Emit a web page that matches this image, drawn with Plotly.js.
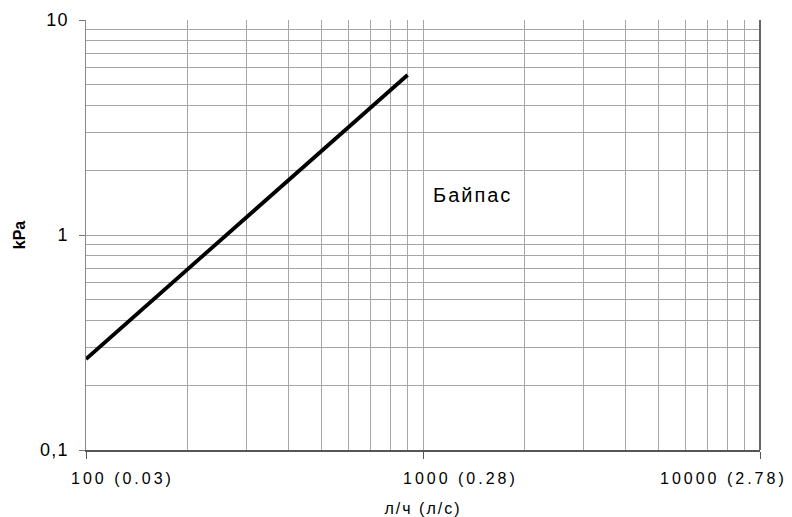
<!DOCTYPE html>
<html>
<head>
<meta charset="utf-8">
<script src="https://cdn.plot.ly/plotly-3.0.1.min.js"></script>
<style>
  html, body { margin: 0; padding: 0; background: #fff; }
  #chart { width: 792px; height: 517px; }
  .annotation-text { letter-spacing: 3px; }
  .ytick text { letter-spacing: 1.3px; }
  .xtitle { letter-spacing: 2px; }
</style>
</head>
<body>
<div id="chart"></div>
<script>
// Flow (l/h) and pressure drop (kPa) of the bypass curve
const flowLph = [100, 900];
const pressureKPa = [0.265, 5.55];

// Axis tick values and labels
const xMajorTicks = [100, 1000, 10000];
const xMajorLabels = ['100 (0.03)', '1000 (0.28)', '10000 (2.78)'];
const xMinorTicks = [200, 300, 400, 500, 600, 700, 800, 900, 2000, 3000, 4000, 5000, 6000, 7000, 8000, 9000];
const yMajorTicks = [0.1, 1, 10];
const yMajorLabels = ['0,1', '1', '10'];
const yMinorTicks = [0.2, 0.3, 0.4, 0.5, 0.6, 0.7, 0.8, 0.9, 2, 3, 4, 5, 6, 7, 8, 9];

const seriesName = 'Байпас';
const xTitle = 'л/ч (л/с)';
const yTitle = 'kPa';

const FONT = 'Liberation Sans, Arial, Helvetica, sans-serif';
const labelShifts = [-17, -22, -102];

const annotations = xMajorTicks.map((v, i) => ({
  x: Math.log10(v), xref: 'x', xanchor: 'left', xshift: labelShifts[i], align: 'left',
  y: -0.0674, yref: 'paper', yanchor: 'middle',
  text: xMajorLabels[i], showarrow: false,
  font: { family: FONT, size: 16, color: '#000' }
}));
annotations.push({
  x: Math.log10(1070), xref: 'x', xanchor: 'left', xshift: -2, align: 'left',
  y: Math.log10(1.54), yref: 'y', yanchor: 'middle',
  text: seriesName, showarrow: false,
  font: { family: FONT, size: 20, color: '#000' }
});

const trace = {
  x: flowLph, y: pressureKPa, type: 'scatter', mode: 'lines',
  line: { color: '#000', width: 3.8 }, name: seriesName, showlegend: false
};

const layout = {
  width: 792, height: 517,
  margin: { l: 86, r: 32, t: 20, b: 67 },
  paper_bgcolor: '#fff', plot_bgcolor: '#fff',
  font: { family: FONT, color: '#000' },
  showlegend: false,
  xaxis: {
    type: 'log', range: [2, 4],
    tickvals: xMajorTicks, ticktext: xMajorTicks.map(() => ''),
    ticks: 'outside', ticklen: 7, tickcolor: '#555', tickwidth: 1,
    showgrid: true, gridcolor: '#a6a6a6', gridwidth: 1,
    minor: { tickvals: xMinorTicks, showgrid: true, gridcolor: '#a6a6a6', gridwidth: 1, ticks: '' },
    showline: true, linecolor: '#555', linewidth: 2,
    zeroline: false, automargin: false,
    title: { text: xTitle, font: { family: FONT, size: 16, color: '#000' }, standoff: 42 }
  },
  yaxis: {
    type: 'log', range: [-1, 1],
    tickvals: yMajorTicks, ticktext: yMajorLabels,
    ticks: 'outside', ticklen: 6, tickcolor: '#777', tickwidth: 1,
    tickfont: { family: FONT, size: 18, color: '#000' },
    ticklabelstandoff: 6,
    showgrid: true, gridcolor: '#a6a6a6', gridwidth: 1,
    minor: { tickvals: yMinorTicks, showgrid: true, gridcolor: '#a6a6a6', gridwidth: 1, ticks: '' },
    showline: true, linecolor: '#888', linewidth: 1.5,
    zeroline: false, automargin: false,
    title: { text: '<b>' + yTitle + '</b>', font: { family: FONT, size: 16, color: '#000' }, standoff: 10 }
  },
  shapes: [{
    type: 'line', xref: 'paper', yref: 'paper', x0: 1, x1: 1, y0: 0, y1: 1,
    line: { color: '#666', width: 2 }
  }],
  annotations: annotations
};

Plotly.newPlot('chart', [trace], layout, { displayModeBar: false, staticPlot: true }).then(() => {
  const texts = document.querySelectorAll('.annotation-text');
  if (texts.length > 3) texts[3].style.letterSpacing = '2px';
});
</script>
</body>
</html>
